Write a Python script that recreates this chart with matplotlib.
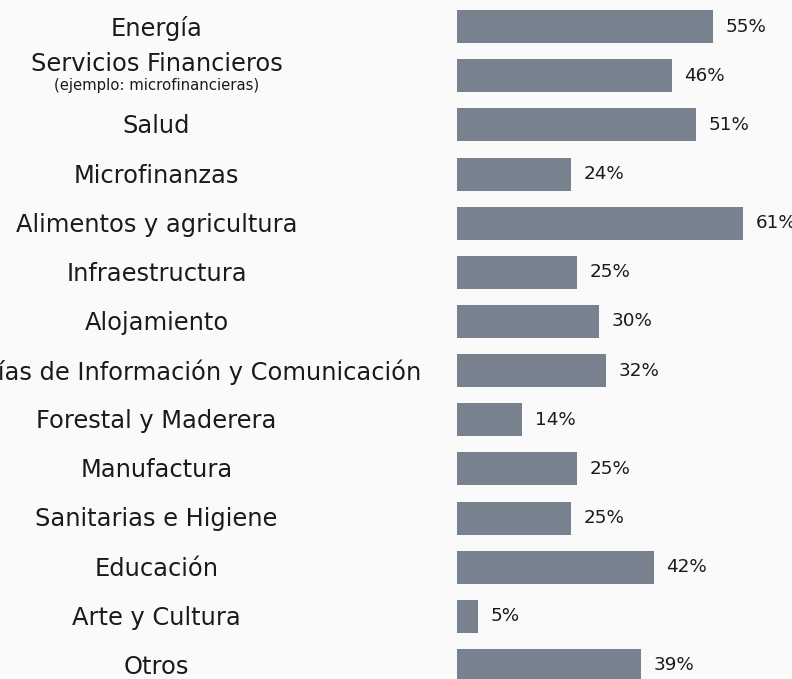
import matplotlib.pyplot as plt
import matplotlib.transforms as mtransforms
import numpy as np

# datos
categorias = [
    "Energía",
    "Servicios Financieros",
    "Salud",
    "Microfinanzas",
    "Alimentos y agricultura",
    "Infraestructura",
    "Alojamiento",
    "Tecnologías de Información y Comunicación",
    "Forestal y Maderera",
    "Manufactura",
    "Sanitarias e Higiene",
    "Educación",
    "Arte y Cultura",
    "Otros",
]
subtitulos = {"Servicios Financieros": "(ejemplo: microfinancieras)"}
valores = [54.7, 45.9, 51.1, 24.4, 61.1, 25.6, 30.3, 31.8, 13.9, 25.6, 24.4, 42.0, 4.5, 39.3]
etiquetas = ["55%", "46%", "51%", "24%", "61%", "25%", "30%", "32%", "14%", "25%", "25%", "42%", "5%", "39%"]

fondo = "#fafafa"
color_barra = "#78828e"
color_texto = "#1a1a1a"

W, H = 792, 679
fig = plt.figure(figsize=(W / 100, H / 100), dpi=100, facecolor=fondo)

# eje de las barras: empieza en x=457 px, 4.68 px por punto porcentual
x0 = 457
ax = fig.add_axes([x0 / W, 0, 1 - x0 / W, 1])
ax.set_facecolor(fondo)
px_por_unidad = 4.68
ax.set_xlim(0, (W - x0) / px_por_unidad)

# filas: primera a 26.7 px, separación 49.1 px
fila0, paso = 26.7, 49.13
ax.set_ylim((H - fila0) / paso, -fila0 / paso)
alto = 33 / paso

y = np.arange(len(categorias))
ax.barh(y, valores, height=alto, color=color_barra)

for yi, v, et in zip(y, valores, etiquetas):
    ax.annotate(et, (v, yi), xytext=(9, 0), textcoords="offset points",
                ha="left", va="center", fontsize=13.2, color=color_texto)

ax.axis("off")

# etiquetas de categorías centradas a x=156 px
trans = mtransforms.blended_transform_factory(fig.transFigure, ax.transData)
xc = 156.5 / W
for yi, cat in zip(y, categorias):
    if cat in subtitulos:
        fig.text(xc, yi - 0.25, cat, transform=trans, ha="center", va="center",
                 fontsize=17.4, color=color_texto)
        fig.text(xc, yi + 0.19, subtitulos[cat], transform=trans, ha="center",
                 va="center", fontsize=10.7, color=color_texto)
    else:
        fig.text(xc, yi + 0.03, cat, transform=trans, ha="center", va="center",
                 fontsize=17.4, color=color_texto)

fig.savefig("out.png", dpi=100, facecolor=fondo)
